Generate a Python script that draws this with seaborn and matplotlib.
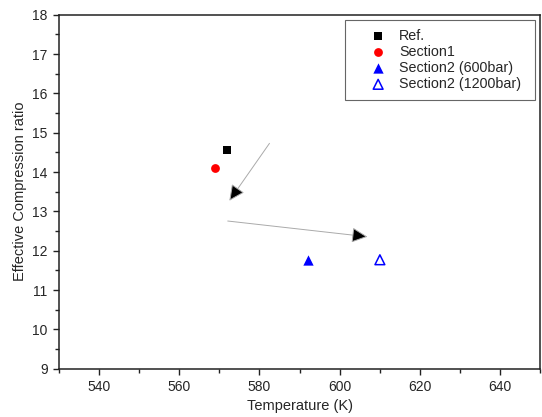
import matplotlib
matplotlib.use('Agg')
import matplotlib.pyplot as plt
import seaborn as sns
from matplotlib.ticker import MultipleLocator

# Datos
ref_T, ref_cr = [572], [14.55]
sec1_T, sec1_cr = [569], [14.1]
sec2_600_T, sec2_600_cr = [592], [11.77]
sec2_1200_T, sec2_1200_cr = [610], [11.77]

# Flechas (inicio -> punta)
arrow1 = ((582.5, 14.73), (572.5, 13.27))
arrow2 = ((572.1, 12.755), (606.9, 12.355))

sns.set_style('ticks')
plt.rcParams['font.family'] = ['Liberation Sans', 'DejaVu Sans']

fig = plt.figure(figsize=(5.42, 4.17), dpi=100)
ax = fig.add_axes([0.1083, 0.1158, 0.8889, 0.8489])

sns.scatterplot(x=ref_T, y=ref_cr, marker='s', color='black', s=30, linewidth=0, label='Ref.', ax=ax)
sns.scatterplot(x=sec1_T, y=sec1_cr, marker='o', color='red', s=40, linewidth=0, label='Section1', ax=ax)
sns.scatterplot(x=sec2_600_T, y=sec2_600_cr, marker='^', color='blue', s=55, linewidth=0,
                label='Section2 (600bar)', ax=ax)
sns.scatterplot(x=sec2_1200_T, y=sec2_1200_cr, marker='^', facecolor='none', edgecolor='blue', s=50,
                linewidth=1.1, label='Section2 (1200bar)', ax=ax)

for start, end in [arrow1, arrow2]:
    ax.annotate('', xy=end, xytext=start,
                arrowprops=dict(arrowstyle='-|>,head_length=0.97,head_width=0.47',
                                mutation_scale=10, fc='black', ec='#aaaaaa', lw=0.7,
                                shrinkA=0, shrinkB=0))

ax.set_xlim(530, 650)
ax.set_ylim(9, 18)
ax.xaxis.set_major_locator(MultipleLocator(20))
ax.xaxis.set_minor_locator(MultipleLocator(10))
ax.yaxis.set_major_locator(MultipleLocator(1))
ax.yaxis.set_minor_locator(MultipleLocator(0.5))
ax.tick_params(which='major', direction='out', length=4.5, width=1, labelsize=10, color='#222222')
ax.tick_params(which='minor', direction='out', length=3, width=1, color='#222222')
for sp in ax.spines.values():
    sp.set_color('#222222')
    sp.set_linewidth(1.1)

ax.set_xlabel('Temperature (K)', fontsize=10.5)
ax.set_ylabel('Effective Compression ratio', fontsize=10.5)

leg = ax.legend(loc='upper left', bbox_to_anchor=(0.594, 0, 0.3946, 0.985), mode='expand',
                fontsize=10.3, frameon=True, fancybox=False, framealpha=1,
                edgecolor='#666666', borderpad=0.6, labelspacing=0.15, handlelength=3.45,
                handletextpad=-0.25, borderaxespad=0, scatterpoints=1)
leg.get_frame().set_linewidth(0.8)

fig.savefig('out.png', dpi=100)
